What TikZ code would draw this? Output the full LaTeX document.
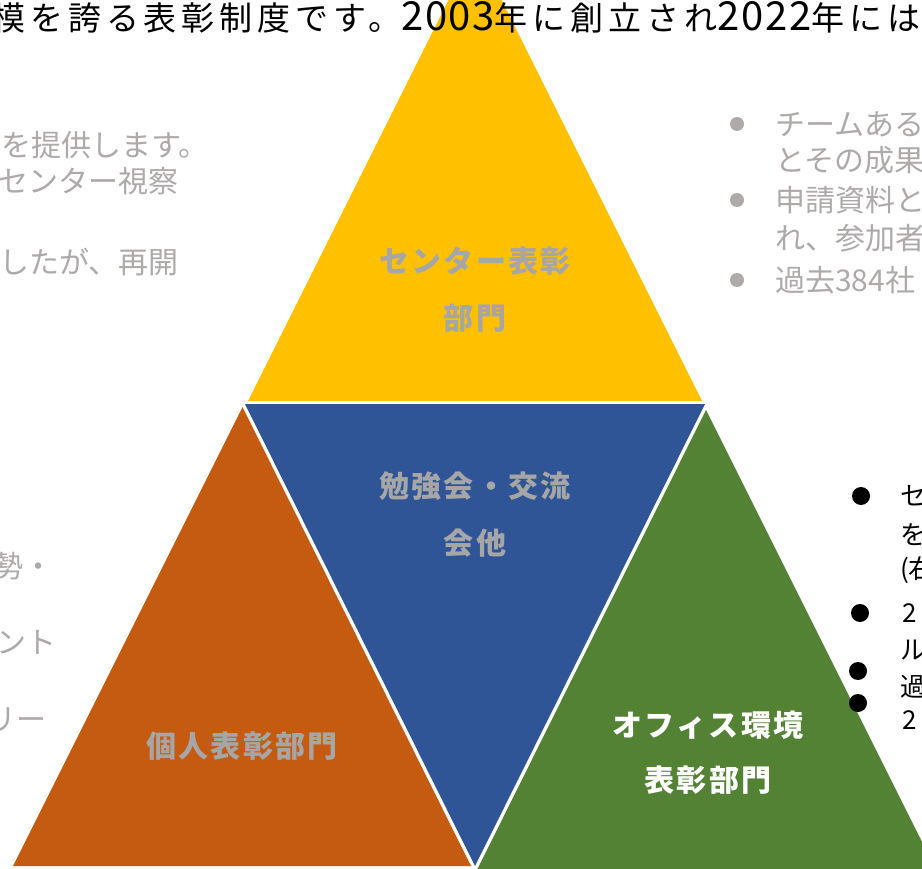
\documentclass[tikz,border=0pt]{standalone}
\usepackage{fontspec}
\setmainfont{Noto Sans CJK JP}
\newfontfamily\jptop[LetterSpace=15]{Noto Sans CJK JP}
\newfontfamily\jpnum[LetterSpace=4]{Noto Sans CJK JP}
\newfontfamily\jplab[LetterSpace=8]{Noto Sans CJK JP}
\definecolor{yel}{RGB}{255,192,0}
\definecolor{blu}{RGB}{47,85,151}
\definecolor{ora}{RGB}{197,90,17}
\definecolor{gre}{RGB}{84,130,53}
\definecolor{labgray}{RGB}{166,166,166}
\definecolor{sidegray}{RGB}{174,170,170}
\newcommand{\tj}[1]{{\jptop\fontsize{33}{40}\selectfont #1}}
\newcommand{\tn}[1]{{\jpnum\fontsize{40}{46}\selectfont #1}}
\begin{document}
\begin{tikzpicture}[x=1pt,y=-1pt,
  gtxt/.style={text=sidegray, inner sep=0pt, font=\fontsize{30}{36}\selectfont},
  btxt/.style={text=black, inner sep=0pt, anchor=west, font=\fontsize{26}{32}\selectfont},
  lab/.style={text=labgray, inner sep=0pt, font=\jplab\bfseries\fontsize{30}{36}\selectfont},
  wlab/.style={lab, text=white},
  gdot/.style={circle, fill=sidegray, inner sep=0pt, minimum size=14pt},
  bdot/.style={circle, fill=black, inner sep=0pt, minimum size=18pt}]
\useasboundingbox (0,0) rectangle (922,869);
\clip (0,0) rectangle (922,869);
\fill[white] (0,0) rectangle (922,869);
% triangles
\fill[yel] (475,-53) -- (702,401) -- (248,401) -- cycle;
\fill[blu] (245,404) -- (705,404) -- (475,866) -- cycle;
\fill[ora] (242.5,407) -- (471,866) -- (13,866) -- cycle;
\fill[gre] (706,410) -- (941,880) -- (472,880) -- cycle;
% title
\node[anchor=base west, inner sep=0pt] (title) at (-8,31) {\tj{模を誇る表彰制度です。}\tn{2003}\tj{年に創立され}\tn{2022}\tj{年には}};
% left gray text
\node[gtxt, anchor=east] (l1) at (209,145) {を提供します。};
\node[gtxt, anchor=east] (l2) at (179,181) {センター視察};
\node[gtxt, anchor=east] (l3) at (179,262) {したが、再開};
\node[gtxt, anchor=east] (l4) at (54,566) {勢・};
\node[gtxt, anchor=east] (l5) at (57,642) {ント};
\node[gtxt, anchor=east] (l6) at (47,720) {リー};
% right gray text
\node[gdot] (g1) at (737,124) {};
\node[gdot] (g2) at (737,200) {};
\node[gdot] (g3) at (737,280) {};
\node[gtxt, anchor=west] (r1) at (775,124) {チームある};
\node[gtxt, anchor=west] (r2) at (775,160) {とその成果};
\node[gtxt, anchor=west] (r3) at (775,200) {申請資料と};
\node[gtxt, anchor=west] (r4) at (775,238) {れ、参加者};
\node[gtxt, anchor=west] (r5) at (775,280) {過去384社};
% right black text
\node[bdot] (b1) at (861,496) {};
\node[bdot] (b2) at (860,613) {};
\node[bdot] (b3) at (858,671) {};
\node[bdot] (b4) at (858,703) {};
\node[btxt] (k1) at (900,496) {セ};
\node[btxt] (k2) at (900,535) {を};
\node[btxt] (k3) at (900,570) {(右};
\node[btxt] (k4) at (902,613) {2};
\node[btxt] (k5) at (900,650) {ル};
\node[btxt] (k6) at (900,687) {過};
\node[btxt] (k7) at (902,720) {2};
% triangle labels
\node[lab] (y1) at (475,261) {センター表彰};
\node[lab] (y2) at (475,318) {部門};
\node[lab] (u1) at (475,486) {勉強会・交流};
\node[lab] (u2) at (475,543) {会他};
\node[lab] (o1) at (242,746) {個人表彰部門};
\node[wlab] (e1) at (708,725) {オフィス環境};
\node[wlab] (e2) at (708,780) {表彰部門};
\end{tikzpicture}
\end{document}
